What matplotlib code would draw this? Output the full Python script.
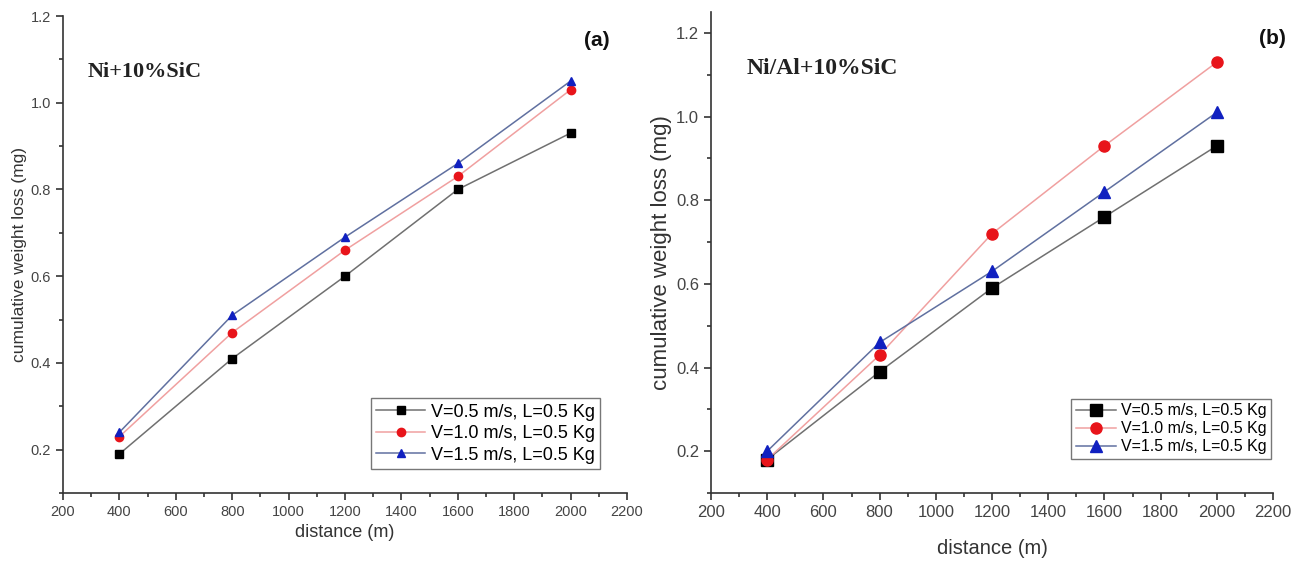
import matplotlib
matplotlib.use("Agg")
import matplotlib.pyplot as plt
from matplotlib.ticker import MultipleLocator

distance = [400, 800, 1200, 1600, 2000]
labels = ["V=0.5 m/s, L=0.5 Kg", "V=1.0 m/s, L=0.5 Kg", "V=1.5 m/s, L=0.5 Kg"]

a_v05 = [0.19, 0.41, 0.60, 0.80, 0.93]
a_v10 = [0.23, 0.47, 0.66, 0.83, 1.03]
a_v15 = [0.24, 0.51, 0.69, 0.86, 1.05]

b_v05 = [0.18, 0.39, 0.59, 0.76, 0.93]
b_v10 = [0.18, 0.43, 0.72, 0.93, 1.13]
b_v15 = [0.20, 0.46, 0.63, 0.82, 1.01]

plt.rcParams['font.family'] = ['Liberation Sans', 'DejaVu Sans']

W, H = 1304, 565
fig = plt.figure(figsize=(13.04, 5.65), dpi=100)
axa = fig.add_axes([63 / W, 1 - 493 / H, (627 - 63) / W, (493 - 16) / H])
axb = fig.add_axes([711 / W, 1 - 493 / H, (1273 - 711) / W, (493 - 12) / H])

marker_cols = ['black', '#e8141a', '#1020c0']
line_cols = ['#707070', '#f0a0a0', '#6070a0']
markers = ['s', 'o', '^']

def style(ax, ylim, ylabfs, xlabfs, xpad, tickfs):
    ax.set_xlim(200, 2200)
    ax.set_ylim(*ylim)
    ax.spines['top'].set_visible(False)
    ax.spines['right'].set_visible(False)
    for s in ['left', 'bottom']:
        ax.spines[s].set_color('#333333')
        ax.spines[s].set_linewidth(1.2)
    ax.xaxis.set_major_locator(MultipleLocator(200))
    ax.xaxis.set_minor_locator(MultipleLocator(100))
    ax.set_yticks([0.2, 0.4, 0.6, 0.8, 1.0, 1.2])
    ax.set_yticklabels(['0.2', '0.4', '0.6', '0.8', '1.0', '1.2'])
    ax.yaxis.set_minor_locator(MultipleLocator(0.1))
    ax.tick_params(which='major', direction='out', length=5, width=1.2, colors='#333333',
                   labelsize=tickfs, labelcolor='#444444')
    ax.tick_params(which='minor', direction='out', length=3, width=1.2, colors='#333333')
    ax.set_xlabel('distance (m)', fontsize=xlabfs, color='#333333', labelpad=xpad)
    ax.set_ylabel('cumulative weight loss (mg)', fontsize=ylabfs, color='#333333', labelpad=3)

for ax, series, msz in [(axa, [a_v05, a_v10, a_v15], 6), (axb, [b_v05, b_v10, b_v15], 8)]:
    for ys, mc, lc, mk, lab in zip(series, marker_cols, line_cols, markers, labels):
        ax.plot(distance, ys, color=lc, lw=1.1, marker=mk, markersize=msz,
                markerfacecolor=mc, markeredgecolor=mc, label=lab)

style(axa, (0.1, 1.2), 12.5, 13, 4, 10.5)
style(axb, (0.1, 1.25), 16, 14.5, 14, 12)

fig.text(88 / W, 1 - 72 / H, 'Ni+10%SiC', fontsize=16, fontweight='bold',
         family='Liberation Serif', color='#222222', va='center', ha='left')
fig.text(597 / W, 1 - 40 / H, '(a)', fontsize=15, fontweight='bold',
         ha='center', va='center', color='#111111')
fig.text(747 / W, 1 - 68 / H, 'Ni/Al+10%SiC', fontsize=17, fontweight='bold',
         family='Liberation Serif', color='#222222', va='center', ha='left')
fig.text(1272 / W, 1 - 38 / H, '(b)', fontsize=15, fontweight='bold',
         ha='center', va='center', color='#111111')

for ax, fs, ls, hl in [(axa, 13, 0.25, 2.7), (axb, 11.5, 0.18, 2.5)]:
    leg = ax.legend(loc='lower right', fontsize=fs, frameon=True,
                    fancybox=False, borderpad=0.3, labelspacing=ls, handlelength=hl,
                    handletextpad=0.3, borderaxespad=0.0)
    leg.get_frame().set_edgecolor('#555555')
    leg.get_frame().set_linewidth(1.0)

axa.get_legend().set_bbox_to_anchor(((600 - 63) / (627 - 63), (493 - 469) / 477), transform=axa.transAxes)
axb.get_legend().set_bbox_to_anchor(((1271 - 711) / (1273 - 711), (493 - 459) / 481), transform=axb.transAxes)

fig.savefig('out.png', dpi=100)
